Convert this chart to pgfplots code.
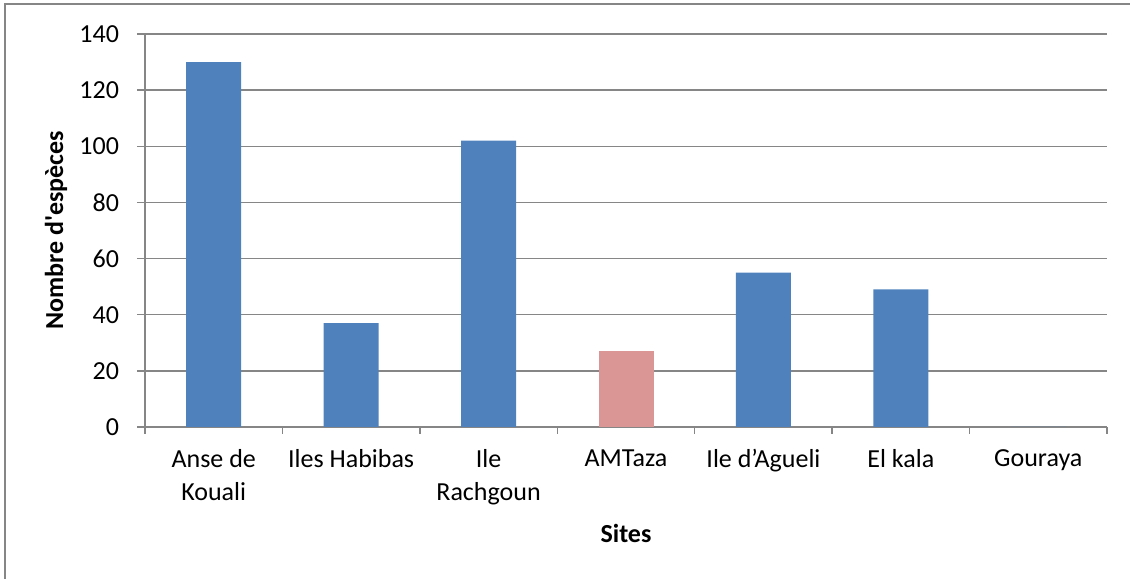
\documentclass[border=0pt]{standalone}
\usepackage{fontspec}
\setmainfont{Carlito}[Ligatures=TeXOff]
\usepackage{pgfplots}
\pgfplotsset{compat=1.18}
\definecolor{barblue}{RGB}{79,129,189}
\definecolor{barpink}{RGB}{217,150,148}
\definecolor{gridgray}{RGB}{134,134,134}
\begin{document}
\begin{tikzpicture}
\path[use as bounding box] (0,0) rectangle (565bp,289.5bp);
\draw[gridgray, line width=0.75bp] (2.5bp,0) -- (2.5bp,287.5bp) -- (565bp,287.5bp);
\begin{axis}[
  at={(72.5bp,76bp)}, anchor=south west, scale only axis,
  width=481bp, height=196.5bp,
  xmin=-0.5, xmax=6.5, ymin=0, ymax=140,
  ytick={0,20,...,140},
  xtick={0,...,6},
  xticklabels={Anse de\\Kouali, Iles Habibas, Ile\\Rachgoun, AMTaza, Ile d’Agueli, El kala, Gouraya},
  minor xtick={-0.5,0.5,...,6.5},
  axis lines=left,
  axis line style={-, gridgray, line width=0.75bp},
  tick align=outside,
  major x tick style={draw=none},
  minor x tick style={gridgray, line width=0.75bp},
  minor tick length=3.5bp,
  y tick style={gridgray, line width=0.75bp},
  major tick length=4bp,
  ymajorgrids, grid style={gridgray, line width=0.75bp},
  ybar, bar width=27.5bp, bar shift=0pt,
  tick label style={font=\fontsize{13bp}{16.5bp}\selectfont},
  xticklabel style={align=center, anchor=north, inner sep=0pt, yshift=-7bp},
  yticklabel style={anchor=east, inner sep=0pt, xshift=-8.8bp},
  /pgf/number format/assume math mode=true,
  ylabel={Nombre d'espèces},
  ylabel style={font=\bfseries\fontsize{13bp}{15bp}\selectfont, at={(axis description cs:-0.0925,0.5)}, anchor=center},
  xlabel={Sites},
  xlabel style={font=\bfseries\fontsize{13bp}{15bp}\selectfont, at={(axis description cs:0.5,-0.2697)}, anchor=center},
]
\addplot[fill=barblue, draw=none] coordinates {(0,130) (1,37) (2,102) (4,55) (5,49) (6,0)};
\addplot[fill=barpink, draw=none] coordinates {(3,27)};
\end{axis}
\end{tikzpicture}
\end{document}
